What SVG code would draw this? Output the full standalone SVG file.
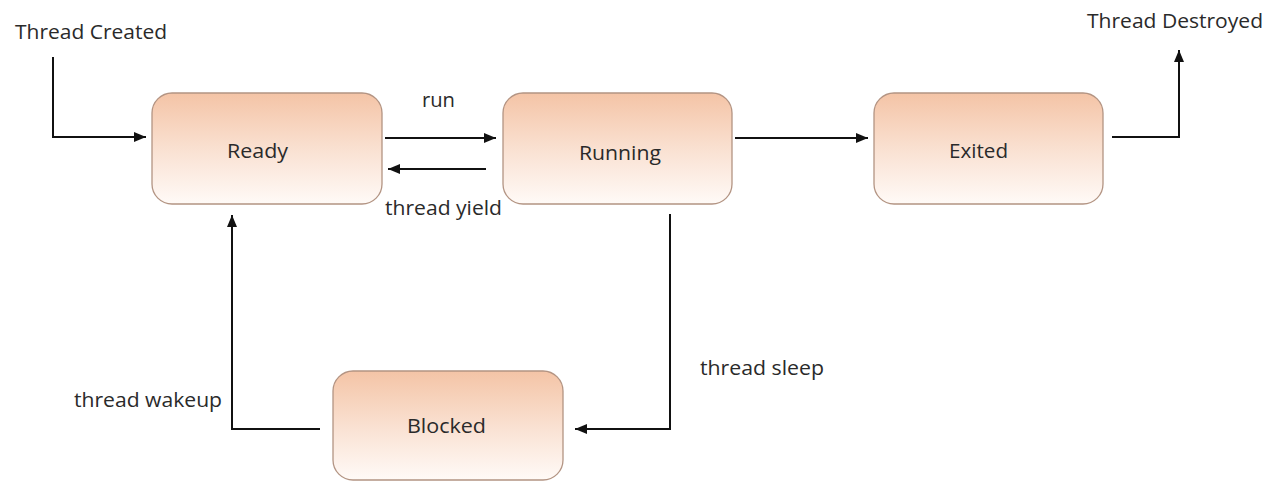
<svg xmlns="http://www.w3.org/2000/svg" width="1270" height="481" viewBox="0 0 1270 481">
<style>
.box{stroke:#b39483;stroke-width:1.3;fill:url(#g)}
.lbl{font-family:"Open Sans","DejaVu Sans",sans-serif;font-size:20px;fill:#2a2a2a}
.ln{stroke:#111;stroke-width:2;fill:none;marker-end:url(#ah)}
</style>
<defs>
<linearGradient id="g" x1="0" y1="0" x2="0" y2="1">
<stop offset="0" stop-color="#f4c4a6"/>
<stop offset="0.55" stop-color="#fae3d5"/>
<stop offset="1" stop-color="#fffaf7"/>
</linearGradient>
<marker id="ah" markerWidth="12" markerHeight="10" refX="12" refY="5" orient="auto" markerUnits="userSpaceOnUse">
<path d="M0,0 L12,5 L0,10 Z" fill="#111"/>
</marker>
</defs>
<rect width="1270" height="481" fill="#fff"/>
<g id="ready"><rect class="box" x="152" y="93" width="230" height="111" rx="20"/><text class="lbl" x="227" y="158" textLength="61" lengthAdjust="spacingAndGlyphs">Ready</text></g>
<g id="running"><rect class="box" x="503" y="93" width="229" height="111" rx="20"/><text class="lbl" x="579" y="160" textLength="82" lengthAdjust="spacingAndGlyphs">Running</text></g>
<g id="exited"><rect class="box" x="874" y="93" width="229" height="111" rx="20"/><text class="lbl" x="949" y="158" textLength="59" lengthAdjust="spacingAndGlyphs">Exited</text></g>
<g id="blocked"><rect class="box" x="333" y="371" width="230" height="109" rx="20"/><text class="lbl" x="407" y="433" textLength="79" lengthAdjust="spacingAndGlyphs">Blocked</text></g>
<g id="labels">
<text class="lbl" x="15" y="39" textLength="152" lengthAdjust="spacingAndGlyphs">Thread Created</text>
<text class="lbl" x="1087" y="28" textLength="176" lengthAdjust="spacingAndGlyphs">Thread Destroyed</text>
<text class="lbl" x="422" y="107" textLength="33" lengthAdjust="spacingAndGlyphs">run</text>
<text class="lbl" x="385" y="215" textLength="117" lengthAdjust="spacingAndGlyphs">thread yield</text>
<text class="lbl" x="700" y="375" textLength="124" lengthAdjust="spacingAndGlyphs">thread sleep</text>
<text class="lbl" x="74" y="407" textLength="148" lengthAdjust="spacingAndGlyphs">thread wakeup</text>
</g>
<g id="connectors">
<path class="ln" d="M53,57 V137 H146"/>
<path class="ln" d="M385,138 H496"/>
<path class="ln" d="M486,169 H388"/>
<path class="ln" d="M735,138 H868"/>
<path class="ln" d="M1112,137 H1179 V50"/>
<path class="ln" d="M670,214 V429 H575"/>
<path class="ln" d="M320,429 H232 V215"/>
</g>
</svg>
